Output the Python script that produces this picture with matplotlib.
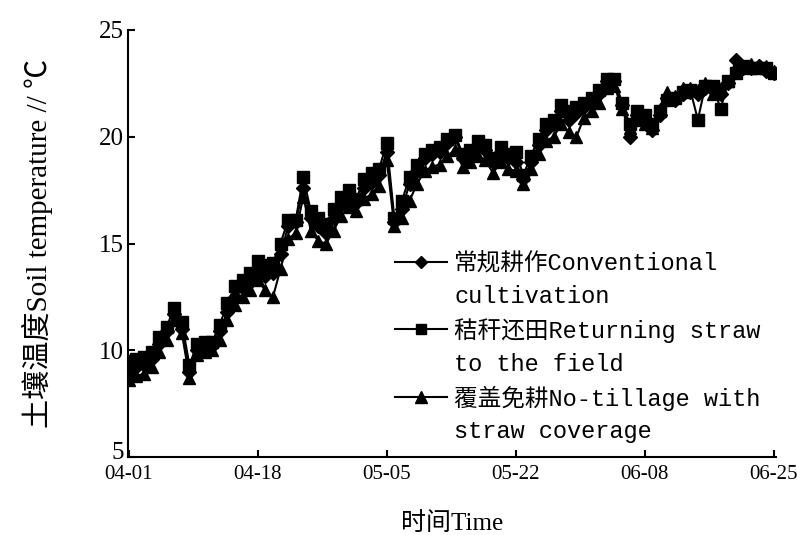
import numpy as np
import matplotlib.pyplot as plt
from matplotlib.lines import Line2D
from matplotlib.transforms import ScaledTranslation

# day index from 04-01
days = np.arange(0, 86)

conv = [9.0, 9.2, 9.3, 9.6, 10.3, 10.9, 11.7, 11.0, 9.0, 10.0,
        10.1, 10.2, 10.9, 11.8, 12.5, 12.9, 13.2, 13.8, 13.5, 13.6,
        14.5, 15.8, 16.0, 17.6, 16.2, 15.8, 15.5, 16.2, 16.8, 17.2,
        16.9, 17.6, 17.9, 18.2, 19.3, 16.0, 16.6, 17.8, 18.4, 19.0,
        19.2, 19.3, 19.7, 20.0, 19.0, 19.2, 19.6, 19.4, 18.8, 19.3,
        19.0, 18.8, 18.0, 18.8, 19.6, 20.3, 20.6, 21.2, 20.8, 21.1,
        21.4, 21.6, 22.0, 22.6, 22.6, 21.5, 20.0, 21.0, 20.8, 20.3,
        21.0, 21.8, 21.7, 22.0, 22.1, 22.0, 22.3, 22.2, 22.0, 22.5,
        23.6, 23.2, 23.2, 23.3, 23.1, 23.0]

straw = [9.5, 9.6, 9.7, 9.9, 10.6, 11.1, 12.0, 11.3, 9.3, 10.3,
         10.4, 10.4, 11.2, 12.2, 13.0, 13.3, 13.6, 14.2, 14.0, 14.1,
         15.0, 16.1, 16.1, 18.1, 16.5, 16.2, 15.9, 16.6, 17.2, 17.5,
         17.1, 18.0, 18.3, 18.5, 19.7, 16.2, 17.0, 18.1, 18.7, 19.2,
         19.4, 19.5, 19.9, 20.1, 19.2, 19.4, 19.8, 19.6, 19.0, 19.5,
         19.2, 19.3, 18.2, 19.1, 19.9, 20.6, 20.8, 21.5, 21.2, 21.4,
         21.6, 21.8, 22.2, 22.7, 22.7, 21.6, 20.6, 21.2, 21.0, 20.6,
         21.2, 21.7, 21.8, 22.1, 22.2, 20.8, 22.4, 22.4, 21.3, 22.6,
         23.0, 23.3, 23.2, 23.2, 23.2, 23.0]

notill = [8.6, 8.8, 8.9, 9.2, 9.9, 10.5, 11.4, 10.8, 8.7, 9.8,
          9.9, 10.0, 10.5, 11.4, 12.1, 12.5, 12.8, 13.3, 12.8, 12.5,
          13.8, 15.2, 15.5, 17.2, 15.6, 15.1, 15.0, 15.6, 16.3, 16.7,
          16.5, 17.1, 17.3, 17.7, 18.9, 15.8, 16.2, 17.0, 17.8, 18.4,
          18.6, 18.7, 19.1, 19.4, 18.6, 18.8, 19.1, 18.9, 18.3, 18.8,
          18.5, 18.4, 17.8, 18.5, 19.2, 19.8, 20.0, 20.6, 20.2, 20.0,
          20.9, 21.2, 21.6, 22.3, 22.4, 21.3, 20.4, 20.8, 20.6, 20.4,
          21.3, 22.1, 21.9, 22.3, 22.3, 22.2, 22.5, 22.0, 22.3, 22.6,
          23.2, 23.3, 23.4, 23.3, 23.3, 23.1]

xticks = [0, 17, 34, 51, 68, 85]
xlabels = ['04-01', '04-18', '05-05', '05-22', '06-08', '06-25']
labels = ['常规耕作Conventional', 'cultivation',
          '秸秆还田Returning straw', 'to the field',
          '覆盖免耕No-tillage with', 'straw coverage']

serif = ['Liberation Serif', 'Noto Sans CJK SC']
mono = ['Liberation Mono', 'Noto Sans CJK SC']

fig = plt.figure(figsize=(7.97, 5.35), dpi=100)
ax = fig.add_axes([128 / 797, 1 - 457 / 535, 648 / 797, 427 / 535])

l1, = ax.plot(days, conv, color='black', lw=1.5, marker='D', ms=7)
l2, = ax.plot(days, straw, color='black', lw=1.5, marker='s', ms=8)
l3, = ax.plot(days, notill, color='black', lw=1.5, marker='^', ms=9)

ax.set_xlim(-0.1, 85.3)
ax.set_ylim(5, 25)
ax.set_xticks(xticks)
ax.set_xticklabels(xlabels, family=serif, fontsize=15)
ax.set_yticks([5, 10, 15, 20, 25])
ax.set_yticklabels(['5', '10', '15', '20', '25'], family=serif, fontsize=18)
ax.tick_params(direction='in', length=5, width=1.5, pad=3)
ax.tick_params(axis='x', pad=6)
ax.spines['top'].set_visible(False)
ax.spines['right'].set_visible(False)
ax.spines['left'].set_linewidth(1.5)
ax.spines['bottom'].set_linewidth(1.5)

# the "5" sits a little higher than the axis, clear of "04-01"
lab5 = ax.get_yticklabels()[0]
lab5.set_transform(lab5.get_transform() + ScaledTranslation(0, 5 / 72, fig.dpi_scale_trans))

ax.set_xlabel('时间Time', family=serif, fontsize=18, labelpad=20)
ax.set_ylabel('土壤温度Soil temperature // ℃', family=serif, fontsize=21, labelpad=33)

blank = Line2D([], [], linestyle='none')
lg1 = Line2D([], [], color='black', lw=1.5, marker='D', ms=6)
lg2 = Line2D([], [], color='black', lw=1.5, marker='s', ms=7)
lg3 = Line2D([], [], color='black', lw=1.5, marker='^', ms=8)
fig.legend([lg1, blank, lg2, blank, lg3, blank], labels,
           loc='upper left', bbox_to_anchor=(395 / 797, 1 - 252 / 535),
           frameon=False, prop={'family': mono, 'size': 17},
           handlelength=2.2, handletextpad=0.3, labelspacing=0.42,
           borderpad=0, borderaxespad=0)

fig.savefig('out.png', dpi=100)
